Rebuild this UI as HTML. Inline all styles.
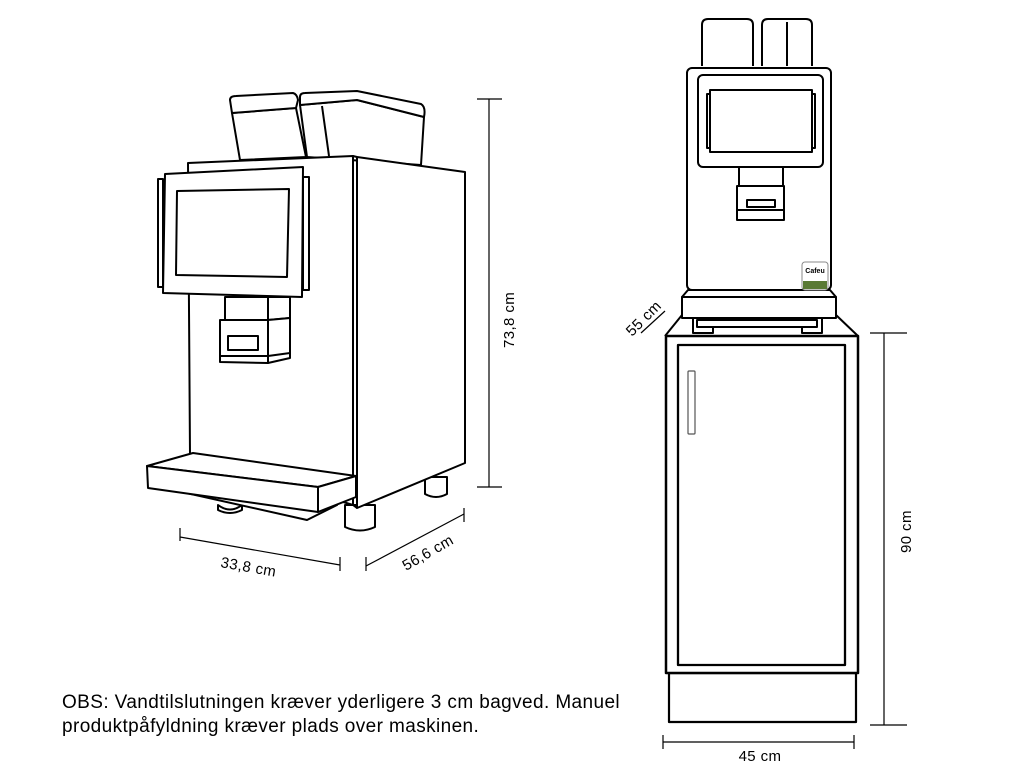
<!DOCTYPE html>
<html><head><meta charset="utf-8"><style>
html,body{margin:0;padding:0;background:#fff;}
svg{display:block;}
text{font-family:"Liberation Sans",Arial,sans-serif;fill:#000;}
</style></head><body>
<svg width="1024" height="768" viewBox="0 0 1024 768" xmlns="http://www.w3.org/2000/svg">
<g fill="#fff" stroke="#000" stroke-width="2" stroke-linejoin="round">
<path d="M232,113 L296,108 L306,157 L240,160 Z"/>
<path d="M230,100 Q230,96 236,96 L293,93 Q297,94 298,100 L296,108 L232,113 Z"/>
<path d="M300,105 L357,100 L424,117 L421,165 L307,157 Z"/>
<path d="M300,97 Q300,93 305,93 L357,91 L421,104 Q426,107 424,117 L357,100 L300,105 Z"/>
<line x1="322" y1="106" x2="329" y2="156"/>
<path d="M425,477 L425,494 Q436,500 447,494 L447,477 Z"/>
<path d="M345,505 L345,527 Q360,534 375,527 L375,505 Z"/>
<path d="M218,505 Q230,514 242,505 L242,510 Q230,516 218,510 Z"/>
<path d="M357,157 L465,172 L465,463 L357,508 Z"/>
<path d="M188,163 L353,156 L353,505 L190,455 Z"/>
<line x1="353" y1="156" x2="357" y2="157"/>
<line x1="353" y1="505" x2="357" y2="508"/>
<rect x="158" y="179" width="5" height="108"/>
<rect x="303" y="177" width="6" height="113"/>
<path d="M165,174 L303,167 L302,297 L163,293 Z"/>
<path d="M177,191 L289,189 L287,277 L176,275 Z"/>
<rect x="225" y="297" width="43" height="23"/>
<path d="M268,297 L290,297 L290,318 L268,320 Z"/>
<path d="M220,320 L268,320 L290,318 L290,358 L268,363 L220,362 Z"/>
<line x1="268" y1="320" x2="268" y2="363"/>
<line x1="220" y1="356" x2="268" y2="356"/>
<line x1="268" y1="356" x2="290" y2="353"/>
<rect x="228" y="336" width="30" height="14"/>
<path d="M173,490 L307,520 L337,505 L320,495 Z"/>
<path d="M147,466 L193,453 L356,476 L318,487 Z"/>
<path d="M147,466 L318,487 L318,512 L148,488 Z"/>
<path d="M318,487 L356,476 L356,497 L318,512 Z"/>

<path d="M702,66 L702,25 Q702,19 708,19 L747,19 Q753,19 753,25 L753,66"/>
<path d="M762,66 L762,25 Q762,19 768,19 L806,19 Q812,19 812,25 L812,66"/>
<line x1="787" y1="22" x2="787" y2="66"/>
<path d="M688,290 L682,297 L836,297 L830,290 Z"/>
<rect x="682" y="297" width="154" height="21"/>
<rect x="693" y="318" width="20" height="15"/>
<rect x="802" y="318" width="20" height="15"/>
<rect x="697" y="320" width="120" height="7"/>
<line x1="682" y1="315" x2="665" y2="336"/>
<line x1="836" y1="315" x2="858" y2="336"/>
<rect x="687" y="68" width="144" height="222" rx="5"/>
<rect x="698" y="75" width="125" height="92" rx="5"/>
<rect x="707" y="94" width="3" height="54"/>
<rect x="812" y="94" width="3" height="54"/>
<rect x="710" y="90" width="102" height="62"/>
<rect x="739" y="167" width="44" height="19"/>
<rect x="737" y="186" width="47" height="24"/>
<rect x="737" y="210" width="47" height="10"/>
<rect x="747" y="200" width="28" height="7"/>
</g>
<rect x="802" y="262" width="26" height="28" rx="3" fill="#fff" stroke="#888" stroke-width="1"/>
<rect x="803" y="281" width="24" height="8" fill="#5a7a35"/>
<text x="815" y="273" font-size="7" font-weight="bold" text-anchor="middle" fill="#444">Cafeu</text>
<g fill="#fff" stroke="#000" stroke-linejoin="round">
<rect x="669" y="673" width="187" height="49" stroke-width="2.2"/>
<rect x="666" y="336" width="192" height="337" stroke-width="2.5"/>
<rect x="678" y="345" width="167" height="320" stroke-width="2.3"/>
<rect x="688" y="371" width="7" height="63" rx="1" stroke="#555" stroke-width="1.2"/>
</g>
<g stroke="#000" stroke-width="1.2" fill="none">
<line x1="489" y1="99" x2="489" y2="487"/>
<line x1="477" y1="99" x2="502" y2="99"/>
<line x1="477" y1="487" x2="502" y2="487"/>
<line x1="180" y1="537" x2="340" y2="565"/>
<line x1="180" y1="528" x2="180" y2="541"/>
<line x1="340" y1="557" x2="340" y2="571"/>
<line x1="366" y1="566" x2="464" y2="514"/>
<line x1="366" y1="557" x2="366" y2="571"/>
<line x1="464" y1="508" x2="464" y2="522"/>
<line x1="884" y1="333" x2="884" y2="725"/>
<line x1="870" y1="333" x2="907" y2="333"/>
<line x1="870" y1="725" x2="907" y2="725"/>
<line x1="663" y1="742" x2="854" y2="742"/>
<line x1="663" y1="735" x2="663" y2="749"/>
<line x1="854" y1="735" x2="854" y2="749"/>
<line x1="641" y1="333" x2="665" y2="311"/>
</g>
<g font-size="15" letter-spacing="0.4">
<text transform="translate(514,348) rotate(-90)">73,8 cm</text>
<text transform="translate(220,567) rotate(10)">33,8 cm</text>
<text transform="translate(406,571) rotate(-30)">56,6 cm</text>
<text transform="translate(911,553) rotate(-90)">90 cm</text>
<text x="760" y="761" text-anchor="middle">45 cm</text>
<text transform="translate(632,337) rotate(-45)">55 cm</text>
</g>
<g font-size="19" letter-spacing="0.4">
<text x="62" y="708">OBS: Vandtilslutningen kræver yderligere 3 cm bagved. Manuel</text>
<text x="62" y="732">produktpåfyldning kræver plads over maskinen.</text>
</g>
</svg>
</body></html>
